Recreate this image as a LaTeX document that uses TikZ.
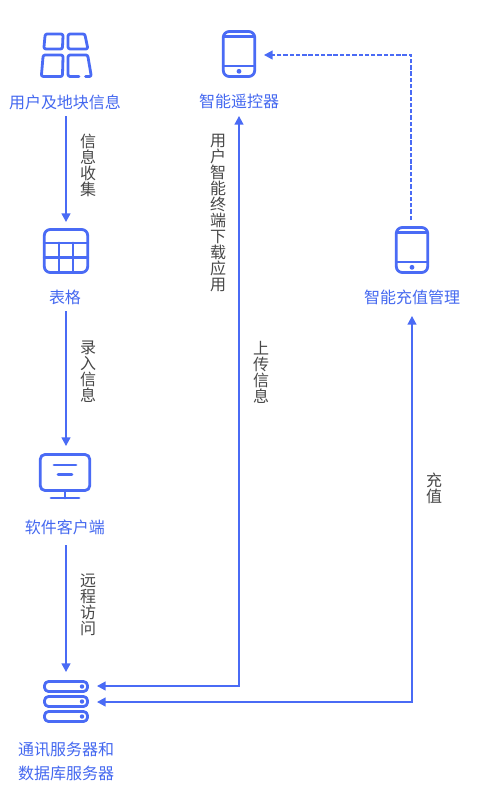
\documentclass[tikz,border=0pt]{standalone}
\usepackage{fontspec}
\setmainfont{Noto Sans CJK SC}
\usetikzlibrary{arrows.meta}
\definecolor{mainblue}{HTML}{4A6BF5}
\definecolor{txtblue}{HTML}{4468F0}
\definecolor{vtxt}{HTML}{484848}
\tikzset{
  x=0.75pt,y=-0.75pt,
  icon/.style={draw=mainblue,line width=2.1pt,line join=round,line cap=round,fill=none},
  dotmark/.style={fill=mainblue,draw=none},
  anchorbox/.style={inner sep=0pt,outer sep=0pt,minimum width=#1},
  lab/.style={inner sep=0pt,outer sep=0pt,text=txtblue,font=\fontsize{12pt}{18pt}\selectfont,align=center},
  vlab/.style={inner sep=0pt,outer sep=0pt,text=vtxt,font=\fontsize{12pt}{12pt}\selectfont,align=center,text width=12pt},
  link/.style={draw=mainblue,line width=1.1pt,-{Triangle[length=6.4pt,width=6.6pt]}},
  linkboth/.style={draw=mainblue,line width=1.1pt,{Triangle[length=6.4pt,width=6.6pt]}-{Triangle[length=6.4pt,width=6.6pt]}},
  dlink/.style={link,dash pattern=on 3.3pt off 1.4pt},
}
\begin{document}
\begin{tikzpicture}
\useasboundingbox (0,0) rectangle (476,794);
\fill[white] (0,0) rectangle (476,794);

% icon nodes (invisible boxes that carry the connector anchors)
\node[anchorbox=46pt,minimum height=43.5pt] (table) at (66,251) {};
\node[anchorbox=46pt,minimum height=42pt] (monitor) at (66,474) {};
\node[anchorbox=46.5pt,minimum height=21pt] (srva) at (66,686) {};
\node[anchorbox=46.5pt,minimum height=10pt] (srvb) at (66,702) {};
\node[anchorbox=37.5pt,minimum height=44pt] (phonea) at (239,55) {};
\node[anchorbox=25pt,minimum height=45pt] (phoneb) at (411,250) {};

% labels
\node[lab,minimum height=21pt] (user) at (65,102) {用户及地块信息};
\node[lab,minimum height=22.5pt] (remote) at (239,101) {智能遥控器};
\node[lab,minimum height=21pt] (tablelab) at (65,297) {表格};
\node[lab,minimum height=28.5pt] (chargelab) at (412,297) {智能充值管理};
\node[lab,minimum height=27pt] (clientlab) at (65,527) {软件客户端};
\node[lab] (serverlab) at (66,761) {通讯服务器和\\数据库服务器};

\node[vlab] (v1) at (88,165.5) {信\\息\\收\\集};
\node[vlab] (v2) at (88,372) {录\\入\\信\\息};
\node[vlab] (v3) at (88,604.5) {远\\程\\访\\问};
\node[vlab] (v4) at (218,213.5) {用\\户\\智\\能\\终\\端\\下\\载\\应\\用};
\node[vlab] (v5) at (261,372) {上\\传\\信\\息};
\node[vlab] (v6) at (434,488.5) {充\\值};

% user icon
\draw[icon] (47,34) -- (61,34) .. controls (62.5,34) and (63,35) .. (63,36) -- (62.5,47) .. controls (62.5,48) and (62,49) .. (60.5,49) -- (46,49) .. controls (44.5,49) and (44,48) .. (44,47) -- (45,36) .. controls (45,35) and (46,34) .. (47,34) -- cycle;
\draw[icon] (70,34) -- (83,34) .. controls (84.5,34) and (85,35) .. (85.2,36) -- (87.5,47) .. controls (87.7,48) and (87,49) .. (86,49) -- (70,49) .. controls (69,49) and (68,48) .. (68,47) -- (68,36) .. controls (68,35) and (69,34) .. (70,34) -- cycle;
\draw[icon] (45,55) -- (61,55) .. controls (62.5,55) and (63,56) .. (63,57) -- (62.5,74.5) .. controls (62.5,75.5) and (62,76.5) .. (60.5,76.5) -- (43.5,76.5) .. controls (42,76.5) and (41.3,75.5) .. (41.5,74.5) -- (43,57) .. controls (43.1,56) and (44,55) .. (45,55) -- cycle;
\draw[icon] (79,76.5) -- (70,76.5) .. controls (69,76.5) and (68,75.5) .. (68,74.5) -- (68,57) .. controls (68,56) and (69,55) .. (70,55) -- (86,55) .. controls (87,55) and (87.8,56) .. (88,57) -- (91,74.5) .. controls (91.2,75.5) and (90.5,76.5) .. (89.5,76.5) -- (85.5,76.5);

% table icon
\draw[icon,rounded corners=4.5pt] (44.3,229.5) rectangle (87.7,272.5);
\draw[icon] (44.3,243) -- (87.7,243) (44.3,257.5) -- (87.7,257.5) (59,243) -- (59,272.5) (73,243) -- (73,272.5);

% monitor icon
\draw[icon,rounded corners=3.5pt] (40.3,454.5) rectangle (89.7,490.5);
\draw[icon] (54,465) -- (76,465) (58,474.5) -- (72,474.5) (65,490.5) -- (65,498) (51,498) -- (79,498);

% server icon
\draw[icon,rounded corners=3pt] (44.5,681.5) rectangle (87.5,691.5);
\draw[icon,rounded corners=3pt] (44.5,696.5) rectangle (87.5,706.5);
\draw[icon,rounded corners=3pt] (44.5,711.5) rectangle (87.5,721.5);
\fill[dotmark] (82,686.5) circle (2.2) (82,701.5) circle (2.2) (82,716.5) circle (2.2);

% phone icons
\draw[icon,rounded corners=4.5pt] (223.3,31.5) rectangle (254.7,76.5);
\draw[icon] (223.3,36.3) -- (254.7,36.3) (223.3,66) -- (254.7,66);
\fill[dotmark] (239,71.3) circle (2.4);
\draw[icon,rounded corners=4.5pt] (396.3,227.5) rectangle (427.7,272.5);
\draw[icon] (396.3,232.3) -- (427.7,232.3) (396.3,262) -- (427.7,262);
\fill[dotmark] (412,267.3) circle (2.4);

% connectors
\draw[link] (user.south -| table.north) -- (table.north);
\draw[link] (tablelab.south -| monitor.north) -- (monitor.north);
\draw[link] (clientlab.south -| srva.north) -- (srva.north);
\draw[linkboth] (srva.east) -| (remote.south);
\draw[linkboth] (srvb.east) -| (chargelab.south);
\draw[dlink] (phoneb.north) |- (phonea.east);
\end{tikzpicture}
\end{document}
